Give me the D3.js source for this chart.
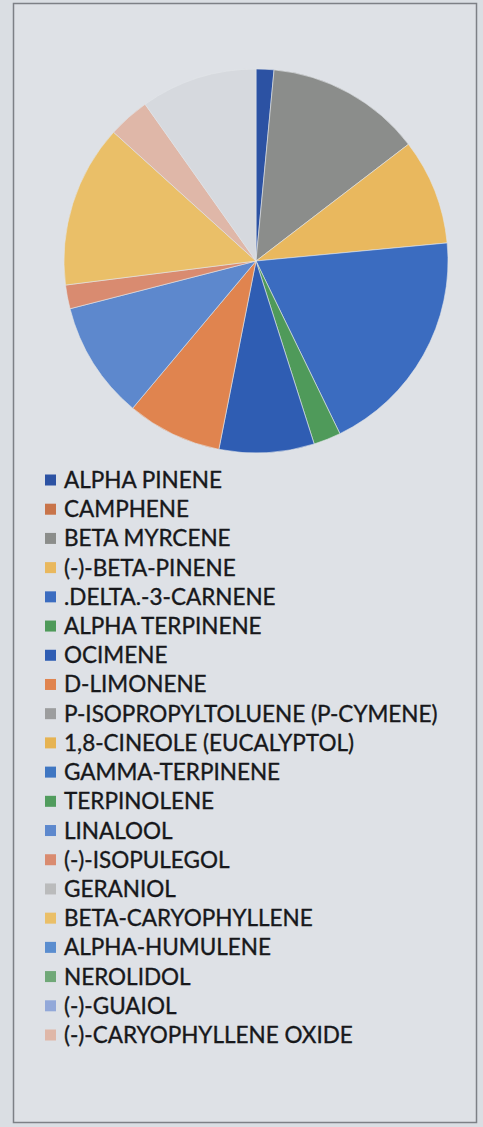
<!DOCTYPE html>
<html>
<head>
<meta charset="utf-8">
<script src="https://cdn.jsdelivr.net/npm/d3@7"></script>
<style>
  html, body { margin: 0; padding: 0; background: #dadee3; }
  svg { display: block; }
</style>
</head>
<body>
<div id="chart"></div>
<script>
// terpene names, in legend order
const categories = [
    "ALPHA PINENE", "CAMPHENE", "BETA MYRCENE", "(-)-BETA-PINENE",
    ".DELTA.-3-CARNENE", "ALPHA TERPINENE", "OCIMENE", "D-LIMONENE",
    "P-ISOPROPYLTOLUENE (P-CYMENE)", "1,8-CINEOLE (EUCALYPTOL)", "GAMMA-TERPINENE",
    "TERPINOLENE", "LINALOOL", "(-)-ISOPULEGOL", "GERANIOL", "BETA-CARYOPHYLLENE",
    "ALPHA-HUMULENE", "NEROLIDOL", "(-)-GUAIOL", "(-)-CARYOPHYLLENE OXIDE"
];

// share of each slice, same order as categories
const values = [1.5, 0, 13.1, 8.9, 19.3, 2.3, 8.0, 8.0, 0, 0, 0, 0, 9.9, 2.0, 0, 13.7, 0, 0, 0, 3.5];

// the pale last slice has no entry in the printed legend
const unlistedValue = 9.8;

const colors = [
    "#2c52a3", "#c8744a", "#8b8d8b", "#e9b85e", "#3b6cc0", "#4f9a5a",
    "#2f5db3", "#e0844f", "#9c9d9e", "#e6b352", "#3f76c2", "#519c5e",
    "#5d88cd", "#d98b70", "#babbbc", "#eabf68", "#5a8dcf", "#70a878",
    "#92a8d9", "#dfb7a8"
];
const unlistedColor = "#d6d9de";

const width = 483, height = 1127;
const cx = 256, cy = 261, radius = 192;

const svg = d3.select('#chart').append('svg')
    .attr('width', width)
    .attr('height', height);

svg.append('rect')
    .attr('width', width).attr('height', height)
    .attr('fill', '#dadee3');

// chart frame
svg.append('rect')
    .attr('x', 13.5).attr('y', 3.5)
    .attr('width', 463).attr('height', 1119)
    .attr('fill', '#dee1e6')
    .attr('stroke', '#7d8086')
    .attr('stroke-width', 1.5);

// pie data: listed series then the unlisted one
const slices = categories.map((c, i) => ({ name: c, value: values[i], color: colors[i] }));
slices.push({ name: '', value: unlistedValue, color: unlistedColor });

const pie = d3.pie()
    .sort(null)
    .value(d => d.value);

const arc = d3.arc()
    .innerRadius(0)
    .outerRadius(radius);

svg.append('g')
    .attr('transform', `translate(${cx},${cy})`)
    .selectAll('path')
    .data(pie(slices).filter(d => d.data.value > 0))
    .enter().append('path')
    .attr('d', arc)
    .attr('fill', d => d.data.color)
    .attr('stroke', '#e3e5e9')
    .attr('stroke-width', 0.6);

// legend
const legendY = d3.scaleLinear()
    .domain([0, categories.length - 1])
    .range([480, 1035]);

const item = svg.append('g')
    .selectAll('g')
    .data(slices.slice(0, categories.length))
    .enter().append('g')
    .attr('transform', (d, i) => `translate(0,${legendY(i)})`);

item.append('rect')
    .attr('x', 45).attr('y', -5.5)
    .attr('width', 11).attr('height', 11)
    .attr('fill', d => d.color);

item.append('text')
    .attr('x', 64)
    .attr('y', 8)
    .style('font-family', 'Lato, "Open Sans", sans-serif')
    .style('font-size', '22.5px')
    .style('fill', '#17181b')
    .style('stroke', '#17181b')
    .style('stroke-width', 0.35)
    .text(d => d.name);
</script>
</body>
</html>
